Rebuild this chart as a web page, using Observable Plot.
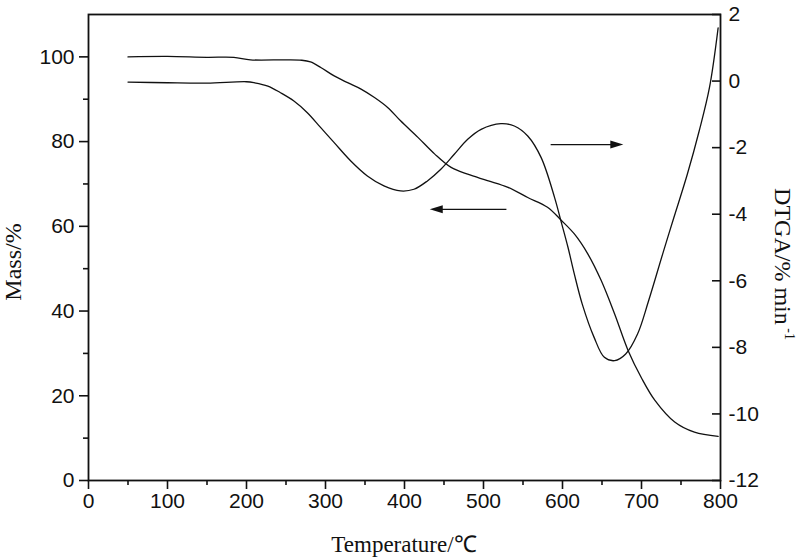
<!DOCTYPE html>
<html><head><meta charset="utf-8">
<script src="https://cdn.jsdelivr.net/npm/d3@7"></script>
<script src="https://cdn.jsdelivr.net/npm/@observablehq/plot@0.6"></script>
<style>body{margin:0;background:#fff} #chart svg{display:block}</style>
</head><body><div id="chart"></div>
<script>
// TGA (mass %, left axis)
const tgaTemp = [50,100,150,184,205,250,270,281,294,311,328,345,362,379,395,417,438,459,480,505,531,556,581,598,615,632,649,666,683,700,717,742,767,797];
const tgaMass = [100.0,100.1,99.9,99.9,99.3,99.3,99.2,98.8,97.5,95.5,93.9,92.4,90.4,88.0,84.9,81.0,77.1,73.9,72.3,70.8,69.2,66.8,64.5,61.5,58.2,53.5,47.2,39.3,30.7,24.2,18.9,13.8,11.4,10.4];
// DTG (%/min, right axis)
const dtgTemp = [50,100,150,200,210,227,243,260,277,294,311,332,353,374,395,412,429,446,463,480,497,522,539,556,573,590,598,607,615,625,640,653,666,680,695,709,728,741,758,773,786,797];
const dtgRate = [-0.03,-0.05,-0.06,-0.02,-0.05,-0.15,-0.35,-0.6,-0.95,-1.4,-1.85,-2.4,-2.85,-3.15,-3.3,-3.25,-3.0,-2.65,-2.2,-1.75,-1.45,-1.28,-1.35,-1.65,-2.3,-3.5,-4.2,-5.0,-5.8,-6.7,-7.7,-8.3,-8.4,-8.2,-7.6,-6.6,-5.1,-4.1,-2.8,-1.5,-0.2,1.6];
// ticks
const xMajor = [0,100,200,300,400,500,600,700,800];
const xMinor = [50,150,250,350,450,550,650,750];
const yMajor = [0,20,40,60,80,100];
const yMinor = [10,30,50,70,90];
const rightTicks = [2,0,-2,-4,-6,-8,-10,-12];
const rightDomain = [-12,2];
const leftDomain = [0,110];
// arrows (temperature start, end, mass level)
const arrowX1 = [585,529];
const arrowX2 = [677,432];
const arrowY = [79.3,64.0];

const toY = v => (v - rightDomain[0]) * (leftDomain[1]-leftDomain[0]) / (rightDomain[1]-rightDomain[0]) + leftDomain[0];
const fromY = m => (m - leftDomain[0]) * (rightDomain[1]-rightDomain[0]) / (leftDomain[1]-leftDomain[0]) + rightDomain[0];

const tga = tgaTemp.map((t,i)=>({t, m: tgaMass[i]}));
const dtg = dtgTemp.map((t,i)=>({t, v: dtgRate[i]}));
const arrows = arrowX1.map((x1,i)=>({x1, x2: arrowX2[i], y: arrowY[i]}));

const head = {draw(ctx, size){ const L=13, h=4; ctx.moveTo(0,0); ctx.lineTo(-L,-h); ctx.lineTo(-L,h); ctx.closePath(); }};
const ink = "#111";

const chart = Plot.plot({
  width: 800, height: 559,
  marginLeft: 88, marginRight: 80, marginTop: 14, marginBottom: 79,
  style: {fontFamily: "'Liberation Sans', Arial, sans-serif", fontSize: "21px", background: "white", color: ink},
  x: {domain: [0,800], axis: null},
  y: {domain: leftDomain, axis: null},
  marks: [
    Plot.axisX({ticks: xMajor, tickSize: 9, tickPadding: 4, tickFormat: d => String(d), label: null, strokeWidth: 1.6}),
    Plot.axisX({ticks: xMinor, tickSize: 5, tickFormat: () => "", label: null, strokeWidth: 1.6}),
    Plot.axisY({anchor: "left", ticks: yMajor, tickSize: 9, tickPadding: 5, tickFormat: d => String(d), label: null, strokeWidth: 1.6}),
    Plot.axisY({anchor: "left", ticks: yMinor, tickSize: 5, tickFormat: () => "", label: null, strokeWidth: 1.6}),
    Plot.axisY({anchor: "right", ticks: rightTicks.map(toY), tickSize: -9, tickPadding: 17, tickFormat: d => String(Math.round(fromY(d))), label: null, strokeWidth: 1.6}),
    Plot.frame({stroke: ink, strokeWidth: 1.8}),
    Plot.line(tga, {x: "t", y: "m", curve: "catmull-rom", stroke: ink, strokeWidth: 1.3}),
    Plot.line(dtg, {x: "t", y: d => toY(d.v), curve: "catmull-rom", stroke: ink, strokeWidth: 1.3}),
    Plot.link(arrows, {x1: "x1", x2: d => d.x2 + (d.x2 > d.x1 ? -8 : 8), y1: "y", y2: "y", stroke: ink, strokeWidth: 1.3}),
    Plot.dot(arrows, {x: "x2", y: "y", symbol: head, r: 5, fill: ink, stroke: null, rotate: d => d.x2 > d.x1 ? 0 : 180})
  ]
});

const svg = d3.select(chart);
const serif = "'Liberation Serif', 'Times New Roman', serif";
svg.append("text").attr("x", 404).attr("y", 552).attr("text-anchor","middle")
  .attr("font-family", serif).attr("font-size", 23).attr("fill", ink).text("Temperature/℃");
svg.append("text").attr("transform","translate(21,262) rotate(-90)").attr("text-anchor","middle")
  .attr("font-family", serif).attr("font-size", 24).attr("fill", ink).text("Mass/%");
const r = svg.append("text").attr("transform","translate(775,264) rotate(90)").attr("text-anchor","middle")
  .attr("font-family", serif).attr("font-size", 24).attr("fill", ink);
r.append("tspan").text("DTGA/% min");
r.append("tspan").attr("dy", -10).attr("font-size", 14).text(" -1");
document.getElementById("chart").appendChild(chart);
</script>
</body></html>
